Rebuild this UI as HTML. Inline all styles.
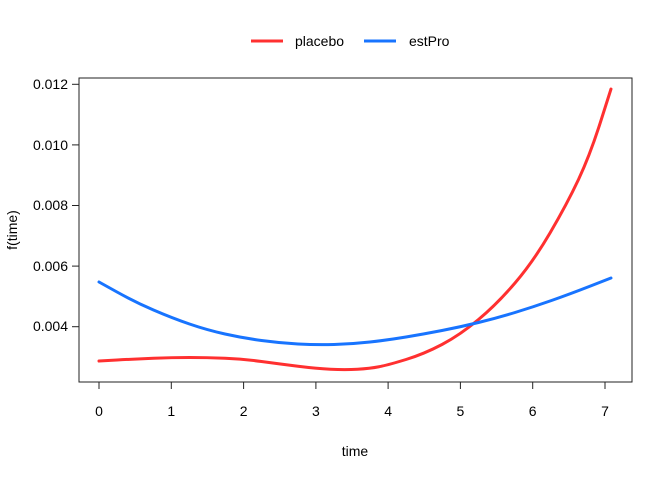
<!DOCTYPE html>
<html><head><style>body{margin:0;background:#fff}svg{display:block}text{font-family:"Liberation Sans",Arial,sans-serif;font-size:14px;fill:#000}</style></head>
<body>
<svg width="672" height="480" viewBox="0 0 672 480">
<rect x="79" y="78" width="553" height="304" fill="none" stroke="#222" stroke-width="1"/>
<g stroke="#222" stroke-width="1">
<line x1="99" y1="382" x2="605" y2="382"/>
<line x1="99" y1="382" x2="99" y2="389"/><line x1="171.3" y1="382" x2="171.3" y2="389"/><line x1="243.6" y1="382" x2="243.6" y2="389"/><line x1="315.9" y1="382" x2="315.9" y2="389"/><line x1="388.1" y1="382" x2="388.1" y2="389"/><line x1="460.4" y1="382" x2="460.4" y2="389"/><line x1="532.7" y1="382" x2="532.7" y2="389"/><line x1="605" y1="382" x2="605" y2="389"/>
<line x1="79" y1="84.3" x2="79" y2="326.7"/>
<line x1="72" y1="84.3" x2="79" y2="84.3"/><line x1="72" y1="144.9" x2="79" y2="144.9"/><line x1="72" y1="205.5" x2="79" y2="205.5"/><line x1="72" y1="266.1" x2="79" y2="266.1"/><line x1="72" y1="326.7" x2="79" y2="326.7"/>
</g>
<g text-anchor="middle">
<text x="99" y="416">0</text><text x="171.3" y="416">1</text><text x="243.6" y="416">2</text><text x="315.9" y="416">3</text><text x="388.1" y="416">4</text><text x="460.4" y="416">5</text><text x="532.7" y="416">6</text><text x="605" y="416">7</text>
<text x="355" y="456">time</text>
<text transform="translate(17,230) rotate(-90)">f(time)</text>
</g>
<g text-anchor="end">
<text x="68" y="89">0.012</text><text x="68" y="150">0.010</text><text x="68" y="210">0.008</text><text x="68" y="271">0.006</text><text x="68" y="331">0.004</text>
</g>
<path fill="none" stroke="#ff3030" stroke-width="3" stroke-linecap="round" d="M99,361 L117,360 Q135,359 153.5,358.25 Q172,357.5 189.5,357.5 Q207,357.5 225,358.25 Q243,359 261.5,361.5 Q280,364 298,366.25 Q316,368.5 330.5,369.25 Q345,370 357.5,369.25 Q370,368.5 379,366.75 Q388,365 406,359.5 Q424,354 442,344.5 Q460,335 478.5,319.5 Q497,304 515,283 Q533,262 550,233 Q567,204 578.5,179.5 Q590,155 600.5,122 L611,89"/>
<path fill="none" stroke="#1874ff" stroke-width="3" stroke-linecap="round" d="M99,282 L117,292 Q135,302 153.5,310 Q172,318 189.5,324 Q207,330 225,334 Q243,338 261.5,340.5 Q280,343 298,344 Q316,345 334,344.5 Q352,344 370,342 Q388,340 406,337 Q424,334 442,330.5 Q460,327 478.5,322.5 Q497,318 515,312.5 Q533,307 551.5,300.5 Q570,294 590.5,286 L611,278"/>
<line x1="251" y1="41" x2="283" y2="41" stroke="#ff3030" stroke-width="3"/>
<text x="295" y="46">placebo</text>
<line x1="364" y1="41" x2="396" y2="41" stroke="#1874ff" stroke-width="3"/>
<text x="409" y="46">estPro</text>
</svg>
</body></html>
